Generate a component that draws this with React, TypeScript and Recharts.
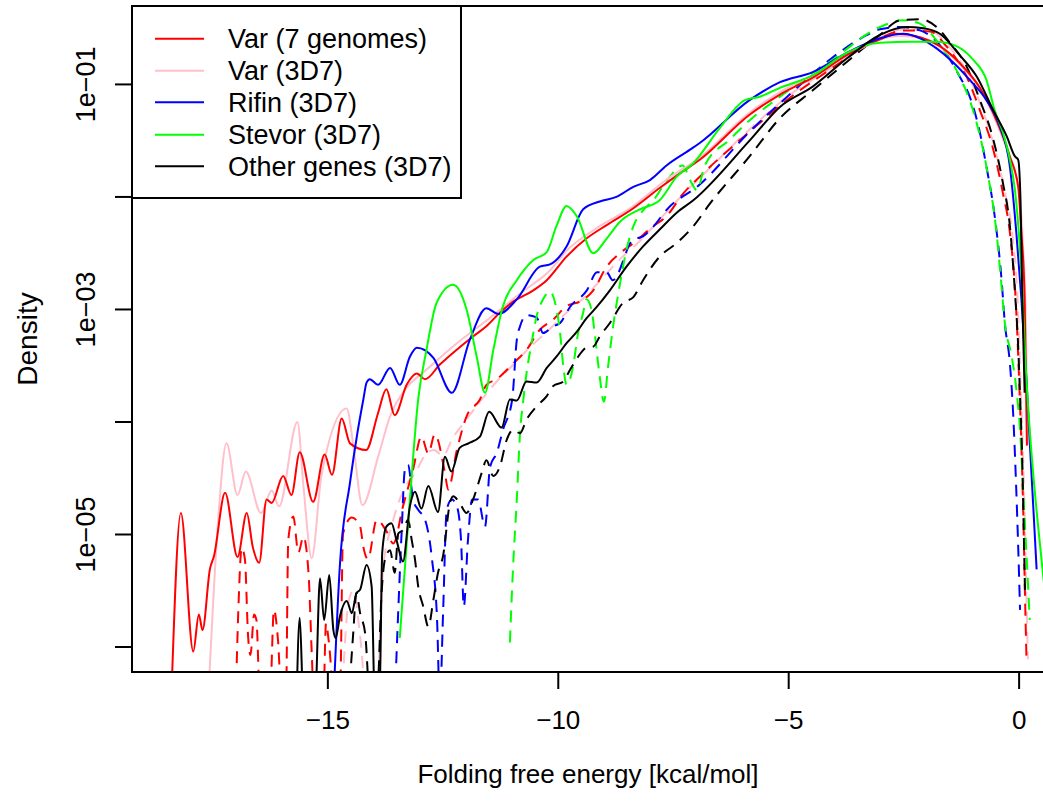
import React from "react";
import { LineChart, Line, XAxis, YAxis } from "recharts";

type Pt = [number, number];

// [folding free energy (kcal/mol), log10(density)].
// Points at -6.5 sit below the axis floor, where the curve drops out of view.
const varAllSolid: Pt[] = [
  [-18.40, -6.5], [-18.19, -4.81], [-17.92, -6.04], [-17.80, -5.71], [-17.72, -5.85],
  [-17.56, -5.31], [-17.47, -5.19], [-17.23, -4.63], [-16.96, -5.20], [-16.76, -4.81],
  [-16.63, -5.11], [-16.49, -5.25], [-16.33, -4.69], [-16.22, -4.72], [-15.97, -4.48],
  [-15.79, -4.65], [-15.61, -4.27], [-15.32, -4.71], [-15.07, -4.29], [-14.91, -4.47],
  [-14.70, -3.97], [-14.52, -4.19], [-14.17, -4.25], [-13.91, -3.92], [-13.73, -3.71],
  [-13.55, -3.94], [-13.29, -3.67], [-13.07, -3.57], [-12.89, -3.62], [-12.57, -3.49],
  [-12.21, -3.36], [-11.85, -3.24], [-11.56, -3.15], [-11.27, -3.03], [-10.98, -2.93],
  [-10.54, -2.83], [-10.25, -2.74], [-9.82, -2.53], [-9.39, -2.37], [-8.95, -2.25],
  [-8.37, -2.10], [-7.80, -1.92], [-7.36, -1.79], [-6.93, -1.67], [-5.85, -1.27],
  [-5.19, -1.09], [-4.48, -0.94], [-3.74, -0.74], [-3.02, -0.60], [-2.66, -0.55],
  [-2.15, -0.58], [-1.72, -0.66], [-1.29, -0.81], [-0.85, -1.03], [-0.49, -1.32],
  [-0.20, -1.64], [-0.02, -1.91], [0.05, -2.32], [0.12, -2.91], [0.17, -4.21],
];

const var3d7Solid: Pt[] = [
  [-17.60, -6.5], [-17.38, -4.87], [-17.20, -4.19], [-16.96, -4.65], [-16.78, -4.44],
  [-16.45, -4.81], [-16.22, -4.61], [-16.06, -4.75], [-15.66, -4.00], [-15.53, -4.57],
  [-15.35, -5.21], [-15.14, -4.48], [-14.59, -3.88], [-14.45, -4.20], [-14.25, -4.74],
  [-13.91, -4.31], [-13.65, -3.95], [-13.30, -3.70], [-12.90, -3.55], [-12.20, -3.30],
  [-11.50, -3.08], [-10.80, -2.85], [-10.20, -2.66], [-9.80, -2.47], [-9.10, -2.26],
  [-8.40, -2.09], [-7.70, -1.86], [-6.90, -1.64], [-5.85, -1.25], [-5.20, -1.07],
  [-4.50, -0.92], [-3.70, -0.74], [-3.00, -0.60], [-2.60, -0.57], [-2.10, -0.59],
  [-1.70, -0.67], [-1.30, -0.82], [-0.85, -1.04], [-0.50, -1.33], [-0.20, -1.66],
  [0.00, -1.95], [0.08, -2.40], [0.14, -3.00], [0.19, -4.20],
];

const rifinSolid: Pt[] = [
  [-14.88, -6.5], [-14.74, -5.28], [-14.52, -4.54], [-14.36, -4.10], [-14.23, -3.80],
  [-14.16, -3.65], [-14.09, -3.62], [-13.91, -3.67], [-13.65, -3.52], [-13.44, -3.67],
  [-13.22, -3.42], [-13.07, -3.34], [-12.71, -3.43], [-12.31, -3.74], [-11.92, -3.27],
  [-11.56, -2.99], [-11.30, -3.04], [-10.90, -2.91], [-10.40, -2.62], [-10.18, -2.60],
  [-9.82, -2.44], [-9.46, -2.11], [-9.10, -2.04], [-8.74, -2.00], [-8.37, -1.91],
  [-8.01, -1.85], [-7.65, -1.72], [-7.14, -1.58], [-6.93, -1.52], [-5.85, -1.14],
  [-5.19, -0.98], [-4.48, -0.89], [-3.74, -0.72], [-3.02, -0.59], [-2.52, -0.55],
  [-2.15, -0.59], [-1.79, -0.68], [-1.44, -0.80], [-1.07, -0.96], [-0.71, -1.14],
  [-0.42, -1.37], [-0.20, -1.73], [-0.06, -2.32], [0.05, -2.91], [0.16, -3.63],
  [0.38, -5.31],
];

const stevorSolid: Pt[] = [
  [-13.44, -5.92], [-13.22, -4.69], [-13.04, -3.80], [-12.86, -3.36], [-12.64, -2.94],
  [-12.28, -2.78], [-11.99, -3.00], [-11.77, -3.42], [-11.59, -3.74], [-11.41, -3.36],
  [-11.20, -2.97], [-10.90, -2.74], [-10.54, -2.56], [-10.25, -2.49], [-10.04, -2.26],
  [-9.82, -2.08], [-9.60, -2.17], [-9.24, -2.50], [-8.95, -2.37], [-8.66, -2.22],
  [-8.23, -2.11], [-7.80, -2.03], [-7.43, -1.82], [-7.07, -1.70], [-6.50, -1.39],
  [-5.95, -1.14], [-5.63, -1.11], [-5.19, -1.03], [-4.48, -0.92], [-3.74, -0.72],
  [-3.39, -0.66], [-3.02, -0.63], [-2.31, -0.62], [-1.79, -0.62], [-1.36, -0.66],
  [-1.00, -0.78], [-0.71, -0.96], [-0.53, -1.23], [-0.35, -1.43], [-0.20, -1.67],
  [-0.09, -1.94], [0.02, -2.47], [0.16, -3.63], [0.50, -5.28], [0.67, -5.94],
];

const otherSolid: Pt[] = [
  [-15.68, -6.5], [-15.61, -5.74], [-15.53, -6.5], [-15.28, -6.5], [-15.17, -5.39],
  [-15.08, -5.76], [-14.97, -5.36], [-14.88, -5.85], [-14.83, -5.92], [-14.74, -5.73],
  [-14.59, -5.59], [-14.48, -5.70], [-14.38, -5.52], [-14.30, -5.49], [-14.16, -5.27],
  [-14.05, -5.46], [-13.98, -6.5], [-13.88, -6.5], [-13.82, -5.16], [-13.73, -4.93],
  [-13.62, -4.90], [-13.51, -5.05], [-13.37, -5.24], [-13.22, -4.75], [-13.11, -4.62],
  [-12.97, -4.77], [-12.82, -4.57], [-12.61, -4.80], [-12.46, -4.31], [-12.32, -4.44],
  [-12.14, -4.23], [-11.95, -4.19], [-11.70, -4.13], [-11.50, -3.91], [-11.23, -4.05],
  [-11.05, -3.80], [-10.90, -3.81], [-10.69, -3.64], [-10.47, -3.65], [-10.25, -3.52],
  [-10.04, -3.42], [-9.82, -3.30], [-9.60, -3.20], [-9.39, -3.08], [-9.17, -2.98],
  [-8.88, -2.83], [-8.52, -2.62], [-8.16, -2.44], [-7.80, -2.29], [-7.43, -2.14],
  [-7.07, -2.03], [-5.85, -1.50], [-5.19, -1.20], [-4.48, -1.02], [-3.74, -0.77],
  [-3.02, -0.56], [-2.44, -0.49], [-2.08, -0.50], [-1.72, -0.55], [-1.29, -0.74],
  [-0.92, -0.93], [-0.56, -1.23], [-0.27, -1.46], [-0.09, -1.64], [-0.02, -1.67],
  [0.03, -2.03], [0.07, -2.91], [0.12, -3.74],
];

const varAllDashed: Pt[] = [
  [-17.00, -6.5], [-16.94, -5.64], [-16.87, -5.12], [-16.80, -5.22], [-16.73, -5.91],
  [-16.68, -6.07], [-16.60, -5.71], [-16.55, -5.76], [-16.47, -6.5], [-16.26, -6.5],
  [-16.17, -5.67], [-16.08, -5.95], [-16.00, -6.5], [-15.91, -6.5], [-15.86, -5.05],
  [-15.75, -4.84], [-15.64, -5.16], [-15.53, -5.02], [-15.42, -5.34], [-15.35, -6.05],
  [-15.30, -6.5], [-15.10, -6.5], [-15.04, -5.79], [-14.98, -5.95], [-14.85, -6.5],
  [-14.74, -6.5], [-14.67, -4.99], [-14.48, -4.85], [-14.30, -4.93], [-14.23, -5.11],
  [-14.13, -5.22], [-13.94, -4.87], [-13.73, -4.97], [-13.58, -5.08], [-13.37, -4.75],
  [-13.15, -4.42], [-12.97, -4.13], [-12.82, -4.28], [-12.68, -4.11], [-12.46, -4.45],
  [-12.39, -4.60], [-12.20, -4.25], [-11.99, -3.95], [-11.70, -3.80], [-11.56, -3.67],
  [-11.34, -3.62], [-10.98, -3.48], [-10.69, -3.36], [-10.40, -3.18], [-10.11, -3.09],
  [-9.82, -2.97], [-9.53, -2.93], [-9.24, -2.83], [-8.95, -2.62], [-8.66, -2.50],
  [-8.37, -2.41], [-7.94, -2.26], [-7.65, -2.17], [-7.29, -1.97], [-6.93, -1.82],
  [-5.85, -1.42], [-4.98, -1.12], [-4.11, -0.87], [-3.46, -0.69], [-3.02, -0.59],
  [-2.48, -0.52], [-1.93, -0.53], [-1.58, -0.66], [-1.14, -0.93], [-0.85, -1.23],
  [-0.56, -1.58], [-0.35, -1.97], [-0.20, -2.32], [-0.06, -3.03], [0.00, -3.63],
  [0.05, -4.22], [0.09, -4.81], [0.12, -5.40], [0.16, -6.11],
];

const var3d7Dashed: Pt[] = [
  [-14.70, -6.5], [-14.55, -5.60], [-14.45, -5.50], [-14.30, -5.90], [-14.15, -6.5],
  [-13.95, -6.5], [-13.80, -5.30], [-13.60, -4.90], [-13.35, -4.60], [-13.10, -4.45],
  [-12.90, -4.30], [-12.70, -4.25], [-12.50, -4.30], [-12.30, -4.15], [-12.00, -3.98],
  [-11.70, -3.82], [-11.40, -3.67], [-11.00, -3.50], [-10.60, -3.33], [-10.20, -3.18],
  [-9.80, -3.02], [-9.40, -2.88], [-9.00, -2.70], [-8.60, -2.53], [-8.20, -2.38],
  [-7.80, -2.20], [-7.30, -1.98], [-6.90, -1.82], [-5.85, -1.40], [-5.00, -1.10],
  [-4.10, -0.86], [-3.45, -0.68], [-3.00, -0.58], [-2.50, -0.51], [-1.95, -0.52],
  [-1.55, -0.65], [-1.10, -0.92], [-0.80, -1.22], [-0.52, -1.58], [-0.30, -1.97],
  [-0.15, -2.32], [-0.02, -3.03], [0.03, -3.63], [0.08, -4.22], [0.12, -4.81],
  [0.15, -5.40], [0.19, -6.11],
];

const rifinDashed: Pt[] = [
  [-13.55, -6.5], [-13.40, -4.99], [-13.33, -4.43], [-13.26, -4.38], [-13.15, -4.69],
  [-13.04, -4.78], [-12.89, -4.87], [-12.74, -5.22], [-12.63, -5.76], [-12.57, -6.5],
  [-12.50, -5.70], [-12.42, -4.78], [-12.31, -4.69], [-12.20, -4.75], [-12.11, -5.05],
  [-12.05, -5.64], [-11.96, -5.05], [-11.87, -4.69], [-11.74, -4.69], [-11.59, -4.93],
  [-11.48, -4.40], [-11.33, -4.27], [-11.20, -4.07], [-11.00, -3.80], [-10.90, -3.27],
  [-10.83, -3.15], [-10.68, -3.05], [-10.47, -3.07], [-10.33, -3.21], [-10.12, -3.15],
  [-9.96, -3.12], [-9.75, -2.98], [-9.38, -2.83], [-9.16, -2.67], [-8.95, -2.67],
  [-8.82, -2.74], [-8.38, -2.38], [-8.16, -2.35], [-7.95, -2.27], [-7.64, -2.11],
  [-6.93, -1.89], [-5.85, -1.42], [-4.98, -1.09], [-4.11, -0.78], [-3.39, -0.58],
  [-3.02, -0.51], [-2.59, -0.49], [-2.15, -0.52], [-1.72, -0.65], [-1.29, -0.93],
  [-1.07, -1.11], [-0.85, -1.43], [-0.71, -1.73], [-0.53, -2.17], [-0.38, -2.74],
  [-0.31, -3.12], [-0.20, -3.48], [-0.13, -3.92], [-0.07, -4.51], [-0.02, -5.11],
  [0.02, -5.67],
];

const stevorDashed: Pt[] = [
  [-11.05, -5.96], [-10.98, -5.28], [-10.90, -4.69], [-10.83, -4.10], [-10.76, -3.81],
  [-10.69, -3.57], [-10.58, -3.30], [-10.47, -3.06], [-10.33, -2.91], [-10.18, -2.84],
  [-10.07, -2.94], [-9.96, -3.21], [-9.89, -3.51], [-9.82, -3.67], [-9.68, -3.51],
  [-9.57, -3.21], [-9.46, -3.03], [-9.39, -2.91], [-9.28, -3.00], [-9.21, -3.21],
  [-9.10, -3.60], [-9.01, -3.82], [-8.92, -3.51], [-8.81, -3.15], [-8.66, -2.77],
  [-8.52, -2.47], [-8.37, -2.26], [-8.16, -2.12], [-7.94, -2.03], [-7.58, -1.82],
  [-7.30, -1.72], [-7.14, -1.85], [-6.99, -1.94], [-6.82, -1.72], [-6.28, -1.49],
  [-5.85, -1.32], [-5.19, -1.11], [-4.11, -0.80], [-3.02, -0.49], [-2.52, -0.43],
  [-2.15, -0.46], [-1.72, -0.65], [-1.29, -0.93], [-1.00, -1.23], [-0.71, -1.73],
  [-0.49, -2.32], [-0.38, -2.80], [-0.31, -3.12], [-0.16, -3.42], [-0.06, -3.71],
  [0.02, -4.07], [0.09, -4.63], [0.16, -5.17], [0.23, -5.76],
];

const otherDashed: Pt[] = [
  [-14.55, -6.5], [-14.45, -5.88], [-14.38, -5.52], [-14.30, -5.70], [-14.19, -5.88],
  [-14.08, -6.5], [-13.94, -6.5], [-13.83, -5.49], [-13.76, -5.22], [-13.65, -5.14],
  [-13.55, -5.34], [-13.47, -4.99], [-13.37, -4.96], [-13.26, -4.87], [-13.18, -5.05],
  [-13.11, -5.22], [-13.04, -5.46], [-12.93, -5.64], [-12.82, -5.82], [-12.71, -5.58],
  [-12.61, -5.34], [-12.50, -5.19], [-12.35, -4.72], [-12.28, -4.66], [-12.14, -4.72],
  [-11.99, -4.81], [-11.85, -4.69], [-11.66, -4.45], [-11.56, -4.34], [-11.41, -4.48],
  [-11.27, -4.40], [-11.12, -4.16], [-10.98, -4.07], [-10.83, -4.10], [-10.69, -3.98],
  [-10.47, -3.86], [-10.25, -3.77], [-10.11, -3.68], [-9.89, -3.64], [-9.75, -3.54],
  [-9.57, -3.42], [-9.39, -3.34], [-9.24, -3.33], [-9.10, -3.24], [-8.88, -3.12],
  [-8.59, -2.94], [-8.37, -2.89], [-8.16, -2.74], [-7.80, -2.53], [-7.43, -2.41],
  [-7.07, -2.26], [-6.71, -2.06], [-5.85, -1.64], [-5.19, -1.30], [-4.47, -1.05],
  [-3.74, -0.80], [-3.02, -0.56], [-2.59, -0.43], [-2.15, -0.42], [-1.79, -0.49],
  [-1.50, -0.63], [-1.14, -0.84], [-0.85, -1.14], [-0.56, -1.49], [-0.35, -1.88],
  [-0.20, -2.26], [-0.09, -2.85], [-0.02, -3.33], [0.02, -3.77], [0.07, -4.37],
  [0.10, -4.96], [0.13, -5.55],
];

const X_TICKS = [-15, -10, -5, 0];
const Y_TICKS = [-6, -5, -4, -3, -2, -1];
const Y_LABELED = [-5, -3, -1];

const SERIES = [
  { name: "Var (7 genomes)", color: "#ff0000", solid: varAllSolid, dashed: varAllDashed },
  { name: "Var (3D7)", color: "#ffc0cb", solid: var3d7Solid, dashed: var3d7Dashed },
  { name: "Rifin (3D7)", color: "#0000ff", solid: rifinSolid, dashed: rifinDashed },
  { name: "Stevor (3D7)", color: "#00ff00", solid: stevorSolid, dashed: stevorDashed },
  { name: "Other genes (3D7)", color: "#000000", solid: otherSolid, dashed: otherDashed },
];

// drawing order: pink under red, so pink goes first
const DRAW_ORDER = [1, 0, 2, 3, 4];

const FONT = '"Liberation Sans", Arial, Helvetica, sans-serif';
const FS = 26;
const Y_FS = 27;
const LEGEND_FS = 27;

const PLOT_LEFT = 132;
const PLOT_TOP = 6;
const PLOT_RIGHT = 1044;
const PLOT_BOTTOM = 672;

const toRows = (pts: Pt[]) => pts.map(([x, v]) => ({ x, v }));
const minus = (n: number) => (n < 0 ? `\u2212${Math.abs(n)}` : `${n}`);

function XTick(props: any) {
  const { x, payload } = props;
  return (
    <text x={x} y={729} textAnchor="middle" fontSize={FS} fontFamily={FONT} fill="#000">
      {minus(payload.value)}
    </text>
  );
}

function YTick(props: any) {
  const { y, payload } = props;
  if (!Y_LABELED.includes(payload.value)) return <g />;
  const label = `1e\u22120${Math.abs(payload.value)}`;
  return (
    <text
      transform={`translate(95, ${y}) rotate(-90)`}
      textAnchor="middle"
      fontSize={Y_FS}
      fontFamily={FONT}
      fill="#000"
    >
      {label}
    </text>
  );
}

function LegendBox() {
  const rowY = [38.7, 70.7, 102.3, 134.7, 166.3];
  return (
    <g>
      <rect x={PLOT_LEFT} y={PLOT_TOP} width={329} height={192} fill="#fff" stroke="#000" strokeWidth={2} />
      {SERIES.map((s, i) => (
        <g key={s.name}>
          <line x1={155} x2={204} y1={rowY[i]} y2={rowY[i]} stroke={s.color} strokeWidth={2} />
          <text x={228} y={rowY[i] + 9.6} fontSize={LEGEND_FS} fontFamily={FONT} fill="#000">
            {s.name}
          </text>
        </g>
      ))}
    </g>
  );
}

export default function App() {
  return (
    <div
      style={{
        position: "fixed",
        left: 0,
        top: 0,
        width: 1043,
        height: 802,
        overflow: "hidden",
        background: "#fff",
      }}
    >
      <LineChart width={1050} height={802} margin={{ top: PLOT_TOP, right: 1050 - PLOT_RIGHT, bottom: 0, left: 0 }}>
        <XAxis
          type="number"
          dataKey="x"
          domain={[-19.25, 0.54]}
          allowDataOverflow
          ticks={X_TICKS}
          interval={0}
          height={802 - PLOT_BOTTOM}
          tickSize={17}
          tickLine={{ stroke: "#000", strokeWidth: 2 }}
          axisLine={false}
          tick={<XTick />}
        />
        <YAxis
          type="number"
          domain={[-6.222, -0.303]}
          allowDataOverflow
          ticks={Y_TICKS}
          interval={0}
          width={PLOT_LEFT}
          tickSize={17}
          tickLine={{ stroke: "#000", strokeWidth: 2 }}
          axisLine={false}
          tick={<YTick />}
        />
        {DRAW_ORDER.map((i) => (
          <Line
            key={`d-${i}`}
            data={toRows(SERIES[i].dashed)}
            dataKey="v"
            type="monotone"
            stroke={SERIES[i].color}
            strokeWidth={2}
            strokeDasharray="12 8"
            dot={false}
            activeDot={false}
            isAnimationActive={false}
          />
        ))}
        {DRAW_ORDER.map((i) => (
          <Line
            key={`s-${i}`}
            data={toRows(SERIES[i].solid)}
            dataKey="v"
            type="monotone"
            stroke={SERIES[i].color}
            strokeWidth={2}
            dot={false}
            activeDot={false}
            isAnimationActive={false}
          />
        ))}
      </LineChart>
      <svg
        width={1043}
        height={802}
        style={{ position: "absolute", left: 0, top: 0, pointerEvents: "none" }}
      >
        <rect
          x={PLOT_LEFT}
          y={PLOT_TOP}
          width={PLOT_RIGHT - PLOT_LEFT}
          height={PLOT_BOTTOM - PLOT_TOP}
          fill="none"
          stroke="#000"
          strokeWidth={2}
        />
        <LegendBox />
        <text x={(PLOT_LEFT + PLOT_RIGHT) / 2} y={783} textAnchor="middle" fontSize={FS} fontFamily={FONT}>
          Folding free energy [kcal/mol]
        </text>
        <text
          transform={`translate(37, ${(PLOT_TOP + PLOT_BOTTOM) / 2}) rotate(-90)`}
          textAnchor="middle"
          fontSize={28}
          fontFamily={FONT}
        >
          Density
        </text>
      </svg>
    </div>
  );
}
